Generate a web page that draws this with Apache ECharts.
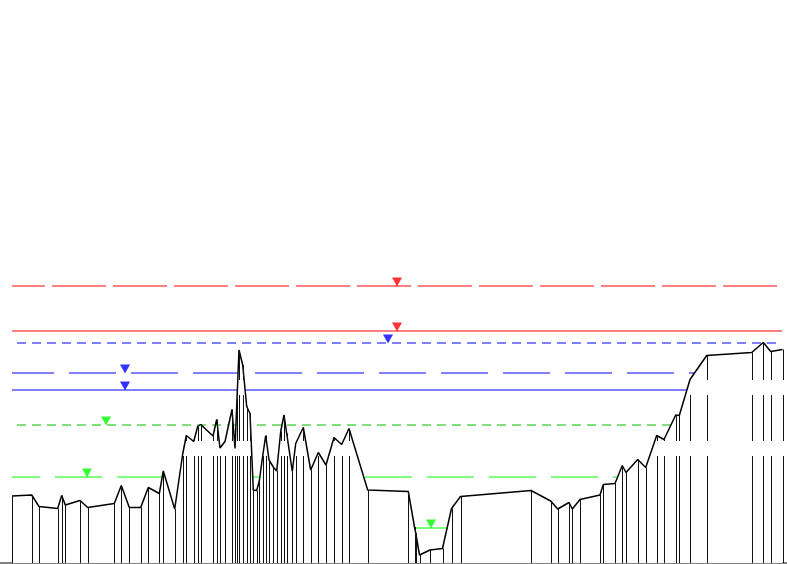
<!DOCTYPE html>
<html>
<head>
<meta charset="utf-8">
<script src="https://cdn.jsdelivr.net/npm/echarts@6/dist/echarts.min.js"></script>
<style>html,body{margin:0;padding:0;background:#fff;}#c{width:787px;height:564px;}</style>
</head>
<body>
<div id="c"></div>
<script>
// Cross-section profile: station (x) and elevation (y)
const station = [0,19.7,27,45.7,49.7,53.3,68,75.7,102.3,109.3,117.3,128.7,136.3,147.3,151.3,162.7,170.7,174.3,181.7,185.7,188.7,201,204.7,208,213,220,223,225,227,230.7,234.7,238,241.3,244.7,247.3,250.7,253.7,257,261.3,264.7,268.7,272,274.7,280.3,283.7,291.3,298.7,306.3,314,322,329.7,337,355.7,396.3,402.5,403.7,407.5,418,430.5,439.5,448.5,519,538.7,545.7,557,560.3,568,588,591.3,603,610.3,614,625.7,633.7,644.7,652,663.7,667.3,678,694.7,739.7,751.3,758.7,770.5];
const elevation = [13.4,13.6,11.3,10.9,13.5,11.6,12.5,11.1,11.9,15.5,11.1,11.1,15.1,13.9,18.4,10.8,21.8,25.5,24.3,27.3,27.7,25.4,28.7,23,24.3,30.7,22.9,32.8,42.6,39.6,31.3,29.9,14.6,14.5,16.4,21.4,25.5,20.6,19.2,18.4,26.3,29.6,25.9,18.3,23.9,27.1,18.6,22.1,19.6,25.1,23.7,26.9,14.6,14.3,7.2,6,1.6,2.6,2.9,10.9,13.3,14.5,12.4,10.8,12.1,10.8,12.7,13.6,15.7,15.9,19.5,18.1,20.7,19.1,25.5,24.7,29.6,29.5,36.7,41.5,42.1,44.1,42.3,42.7];

// Water levels
const levelValues  = [55.4, 46.4, 44.0, 38.0, 34.6, 27.6, 17.2, 7.0];
const levelMarkerX = [385, 385, 376, 113, 113, 94, 75, 419];
const levelStart = 0, levelEnd = 770;

const levelStyles = [
  {color:'#ff0000', mark:'#ff0000', type:[54,7], off:21},
  {color:'#ff0000', mark:'#ff0000', type:'solid', off:0},
  {color:'#0000ff', mark:'#0000ff', type:[9,6], off:10},
  {color:'#0000ff', mark:'#0000ff', type:[47,15], off:5},
  {color:'#0000ff', mark:'#0000ff', type:'solid', off:0},
  {color:'#00c000', mark:'#00ff00', type:[9,6], off:10},
  {color:'#00ff00', mark:'#00ff00', type:[47,15], off:19},
  {color:'#00ff00', mark:'#00ff00', type:'solid', off:0}
];

const chart = echarts.init(document.getElementById('c'), null, {renderer:'canvas'});
const series = [];
levelValues.forEach((v, i) => {
  const s = levelStyles[i];
  series.push({
    type:'line', z:1, silent:true, symbol:'none',
    data:[[levelStart, v],[levelEnd, v]],
    lineStyle:{color:s.color, width:1.2, type:s.type, dashOffset:s.off}
  });
});
series.push({
  type:'line', z:5, symbol:'none', silent:true,
  data: station.map((x,i)=>[x, elevation[i]]),
  lineStyle:{color:'#000', width:1.5},
  areaStyle:{color:'#ffffff', opacity:1, origin:'start'}
});
series.push({
  type:'custom', z:6, silent:true,
  data: station.map((x,i)=>[x, elevation[i]]),
  renderItem:(params, api)=>{
    const top = api.coord([api.value(0), api.value(1)]);
    const bot = api.coord([api.value(0), 0]);
    const px = Math.round(top[0]) + 0.5;
    return {type:'line', shape:{x1:px, y1:bot[1], x2:px, y2:top[1]},
      style:{stroke:'#111', lineWidth:1, lineDash:[107,15,46,15,3000]}};
  }
});
series.push({
  type:'scatter', z:8, silent:true,
  symbol:'triangle', symbolRotate:180, symbolSize:[10,9], symbolOffset:[0,-4],
  data: levelValues.map((v,i)=>({value:[levelMarkerX[i], v], itemStyle:{color: levelStyles[i].mark}}))
});

chart.setOption({
  animation:false,
  backgroundColor:'#ffffff',
  grid:{left:0, right:0, top:63, bottom:1, containLabel:false},
  xAxis:{type:'value', min:-12, max:775, axisLine:{show:true, lineStyle:{color:'#808080', width:2}}, axisTick:{show:false}, axisLabel:{show:false}, splitLine:{show:false}},
  yAxis:{type:'value', min:0, max:100, axisLine:{show:false}, axisTick:{show:false}, axisLabel:{show:false}, splitLine:{show:false}},
  series: series
});
</script>
</body>
</html>
